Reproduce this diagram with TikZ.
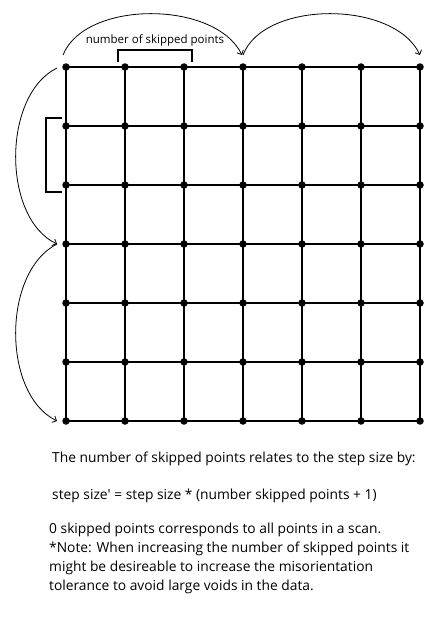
\documentclass[tikz,border=0pt]{standalone}
\usepackage{fontspec}
\setmainfont{Open Sans}
\usetikzlibrary{arrows.meta}

\tikzset{
  gridpt/.style={circle,fill=black,inner sep=0pt,minimum size=7.5pt},
  gridline/.style={line width=1.6pt},
  jump/.style={line width=0.8pt,-{Straight Barb[angle=90:5pt]}},
  bracket/.style={line width=1.2pt},
  txt/.style={anchor=base west,inner sep=0pt,font=\fontsize{13.8}{19}\selectfont}
}

\begin{document}
\begin{tikzpicture}[x=1pt,y=-1pt]
  \useasboundingbox (0,0) rectangle (440,626);
  % points of the scan
  \foreach \i in {0,...,6}
    \foreach \j in {0,...,6}
      \node[gridpt] (p\i\j) at (66+59*\i,67+59*\j) {};
  \foreach \i in {0,...,6} {
    \draw[gridline] (p\i0.center) -- (p\i6.center);
    \draw[gridline] (p0\i.center) -- (p6\i.center);
  }
  % jumps along the rows
  \draw[jump] ([shift={(-3,-12)}]p00.center) .. controls (85,0) and (215,0) .. ([shift={(-1,-12)}]p30.center);
  \draw[jump] ([shift={(0,-12)}]p30.center) .. controls (264,0) and (394,0) .. ([shift={(0,-12)}]p60.center);
  % jumps down the columns
  \draw[jump] ([shift={(-9,1)}]p00.center) .. controls (2,95) and (2,218) .. ([shift={(-9,0)}]p03.center);
  \draw[jump] ([shift={(-9,0)}]p03.center) .. controls (2,272) and (2,394) .. ([shift={(-9,0)}]p06.center);
  % skipped points
  \draw[bracket] (118,62) -- (118,50) -- (192,50) -- (192,62);
  \draw[bracket] (62,118) -- (46,118) -- (46,192) -- (62,192);
  \node[font=\fontsize{11.5}{13}\selectfont] (skip) at (155,40) {number of skipped points};
  \node[txt] (rel) at (52,462) {The number of skipped points relates to the step size by:};
  \node[txt] (eq) at (52,499) {step size\textquotesingle{} = step size * (number skipped points + 1)};
  \node[txt,align=left,anchor=north west] (note) at (49,523) {0 skipped points corresponds to all points in a scan.\\
*Note: When increasing the number of skipped points it\\
might be desireable to increase the misorientation\\
tolerance to avoid large voids in the data.};
\end{tikzpicture}
\end{document}
